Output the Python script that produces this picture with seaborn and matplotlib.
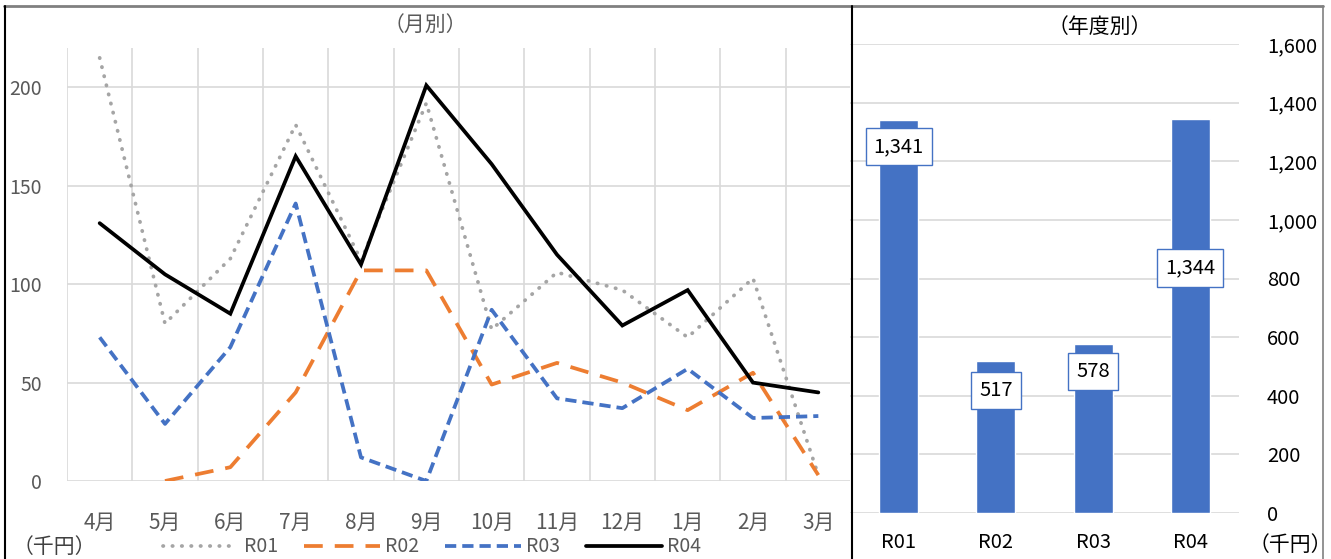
import matplotlib.pyplot as plt
import matplotlib.ticker as mticker
import numpy as np
import pandas as pd
import seaborn as sns

sns.set_theme(style='white')
plt.rcParams['font.family'] = ['Noto Sans CJK JP', 'DejaVu Sans']

# monthly data (thousand yen)
months = ['4月', '5月', '6月', '7月', '8月', '9月', '10月', '11月', '12月', '1月', '2月', '3月']
r01 = [215, 80, 113, 181, 112, 192, 77, 106, 97, 73, 103, 3]
r02 = [np.nan, 0, 7, 45, 107, 107, 49, 60, 50, 36, 55, 3]
r03 = [73, 29, 68, 141, 12, 0, 87, 42, 37, 57, 32, 33]
r04 = [131, 105, 85, 165, 110, 201, 161, 115, 79, 97, 50, 45]

# yearly totals
years = ['R01', 'R02', 'R03', 'R04']
totals = [1341, 517, 578, 1344]

W, H = 1331, 559
fig = plt.figure(figsize=(W / 100, H / 100), dpi=100)

def box(x0, y0, x1, y1):
    return [x0 / W, 1 - y1 / H, (x1 - x0) / W, (y1 - y0) / H]

# ---- left panel: monthly lines ----
ax = fig.add_axes(box(67, 48, 851, 481))
x = np.arange(len(months))
styles = [
    ('R01', r01, '#A5A5A5', (0, (0.1, 2.4)), 'round'),
    ('R02', r02, '#ED7D31', (0, (5, 3.2)), 'butt'),
    ('R03', r03, '#4472C4', (0, (3, 1.6)), 'butt'),
    ('R04', r04, '#000000', '-', 'butt'),
]
for name, vals, col, ls, cap in styles:
    sns.lineplot(x=x, y=vals, ax=ax, color=col, linestyle=ls, linewidth=2.7,
                 label=name, legend=False, dash_capstyle=cap, solid_joinstyle='miter')

ax.set_xlim(-0.5, len(months) - 0.5)
ax.set_ylim(0, 220)
ax.set_xticks(x)
ax.set_xticklabels(months)
ax.set_xticks(np.arange(-0.5, len(months), 1), minor=True)
ax.set_yticks([0, 50, 100, 150, 200])
ax.grid(False)
ax.grid(True, which='minor', axis='x', color='#D9D9D9', linewidth=1.2)
ax.grid(True, which='major', axis='y', color='#D9D9D9', linewidth=1.2)
ax.set_axisbelow(True)
for s in ax.spines.values():
    s.set_visible(False)
ax.tick_params(axis='both', which='both', length=0, colors='#595959')
ax.tick_params(axis='y', pad=18, labelsize=14)
ax.tick_params(axis='x', pad=22, labelsize=15)

fig.text(425 / W, 1 - 25 / H, '（月別）', ha='center', va='center', fontsize=15, color='#595959')
fig.text(54 / W, 1 - 547 / H, '（千円）', ha='center', va='center', fontsize=15, color='#404040')

handles, labels = ax.get_legend_handles_labels()
fig.legend(handles, labels, loc='center', bbox_to_anchor=(432 / W, 1 - 547 / H), ncol=4,
           frameon=False, fontsize=14, handlelength=3.9, handletextpad=0.3,
           columnspacing=1.3, labelcolor='#595959')

# ---- right panel: yearly bars ----
ax2 = fig.add_axes(box(850, 44, 1239, 513))
df = pd.DataFrame({'year': years, 'total': totals})
sns.barplot(data=df, x='year', y='total', ax=ax2, color='#4472C4', width=0.4,
            saturation=1)
ax2.set_ylim(0, 1600)
ax2.set_yticks(np.arange(0, 1601, 200))
ax2.yaxis.set_major_formatter(mticker.FuncFormatter(lambda v, p: f'{int(v):,}'))
ax2.yaxis.tick_right()
ax2.set_xlabel('')
ax2.set_ylabel('')
ax2.grid(True, axis='y', color='#D9D9D9', linewidth=1.2)
ax2.set_axisbelow(True)
for s in ax2.spines.values():
    s.set_visible(False)
ax2.tick_params(axis='both', length=0, labelsize=14.5, colors='#000000')
ax2.tick_params(axis='y', pad=20)
ax2.tick_params(axis='x', pad=14)

# label offsets below the bar tops, in pixels
label_drop = [27, 29, 28, 149]
for i, (v, d) in enumerate(zip(totals, label_drop)):
    ax2.annotate(f'{v:,}', xy=(i, v), xytext=(0, -d), textcoords='offset pixels',
                 ha='center', va='center', fontsize=14.5, color='#000000',
                 bbox=dict(boxstyle='square,pad=0.4', fc='white', ec='#4472C4', lw=1))

fig.text(1100 / W, 1 - 27 / H, '（年度別）', ha='center', va='center', fontsize=15, color='#000000')
fig.text(1290 / W, 1 - 545 / H, '（千円）', ha='center', va='center', fontsize=15, color='#000000')

# panel frames
fig.add_artist(plt.Line2D([4 / W, 1323 / W], [1 - 5.5 / H, 1 - 5.5 / H], color='#808080', lw=2))
fig.add_artist(plt.Line2D([4.5 / W, 4.5 / W], [0, 1 - 5.5 / H], color='#000000', lw=1.5))
fig.add_artist(plt.Line2D([851.5 / W, 851.5 / W], [0, 1 - 5.5 / H], color='#000000', lw=1.5))
fig.add_artist(plt.Line2D([1322.5 / W, 1322.5 / W], [0, 1 - 5.5 / H], color='#808080', lw=1.2))

plt.savefig('out.png', dpi=100)
plt.close()
